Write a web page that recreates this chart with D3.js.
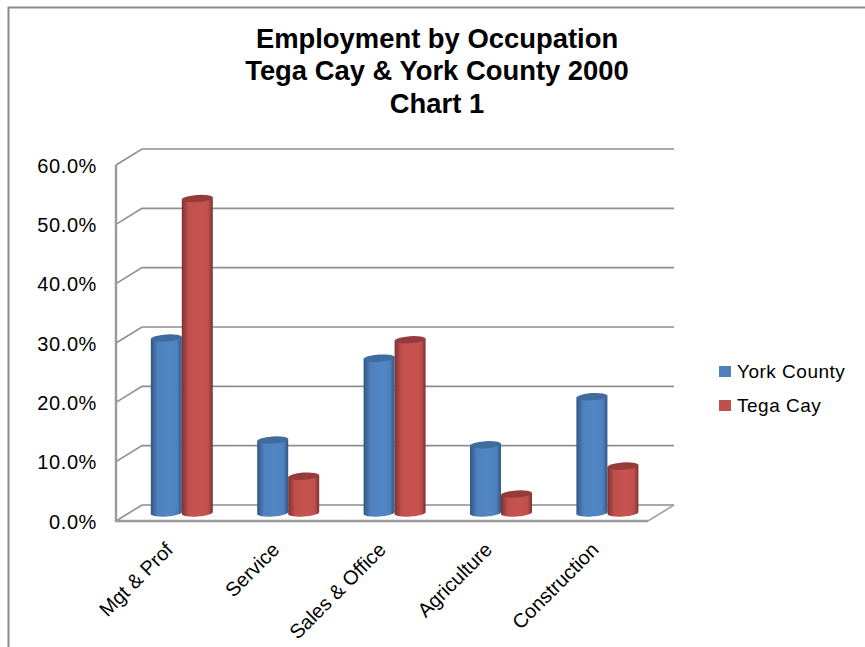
<!DOCTYPE html>
<html><head><meta charset="utf-8">
<script src="https://cdn.jsdelivr.net/npm/d3@7"></script>
<style>html,body{margin:0;padding:0;background:#fff}svg{display:block}text{font-family:"Liberation Sans",Arial,sans-serif;fill:#000}</style>
</head><body><svg id="c" width="865" height="647"></svg>
<script>
const titleLines = ["Employment by Occupation","Tega Cay & York County 2000","Chart 1"];
const categories = ["Mgt & Prof","Service","Sales & Office","Agriculture","Construction"];
const seriesNames = ["York County","Tega Cay"];
const yorkCounty = [29.5,12.3,26.1,11.5,19.6];
const tegaCay = [53.0,6.2,29.2,3.2,7.9];
const yTicks = [0,10,20,30,40,50,60];

const svg = d3.select("#c");
const depthX = 26, depthY = -16;
const left = 116, right = 648, floorY = 521, topY = 165;
const seriesVals = [yorkCounty, tegaCay];
const x = d3.scaleBand().domain(categories).range([left, right]);
const xInner = d3.scaleBand().domain(seriesNames).range([-31, 31]);
const y = d3.scaleLinear().domain([0,60]).range([floorY, topY]);
const barBase = y(0) - 8; // bars stand in the middle of the floor's depth
const barY = v => barBase - (y(0) - y(v));

const colors = [
  {main:"#4f81bd", edge:"#2f5785", top:"#3f6b9f", id:"b"},
  {main:"#c0504d", edge:"#7d3230", top:"#953c3a", id:"r"}];

const defs = svg.append("defs");
colors.forEach(c=>{
  const g = defs.append("linearGradient").attr("id","g"+c.id).attr("x1",0).attr("x2",1).attr("y1",0).attr("y2",0);
  [[0,c.edge],[.22,c.main],[.6,d3.color(c.main).brighter(.12)],[.85,c.main],[1,c.edge]].forEach(s=>
    g.append("stop").attr("offset",s[0]).attr("stop-color",s[1]));
});

// border of the picture
svg.append("path").attr("d","M8.5,647V7.5H865").attr("fill","none").attr("stroke","#8c8c8c").attr("stroke-width",2);

// title
svg.append("g").selectAll("text").data(titleLines).join("text")
  .attr("x",437).attr("y",(d,i)=>47.5+i*32.5).attr("text-anchor","middle")
  .attr("font-size",27.4).attr("font-weight","bold").text(d=>d);

// walls
const grid = svg.append("g").attr("fill","none").attr("stroke","#8f8f8f").attr("stroke-width",1.6);
grid.selectAll("path").data(yTicks).join("path")
  .attr("d",t=>`M${left},${y(t)}L${left+depthX},${y(t)+depthY}H${right+depthX}`);
// floor + left wall
svg.append("path").attr("fill","none").attr("stroke","#a6a6a6").attr("stroke-width",1.8)
  .attr("d",`M${right},${y(0)}L${right+depthX},${y(0)+depthY}`);
svg.append("path").attr("fill","none").attr("stroke","#9a9a9a").attr("stroke-width",2.4)
  .attr("d",`M${left},${y(60)}V${y(0)}H${right}`);

// y axis text
const axisY = d3.axisLeft(y).tickValues(yTicks).tickSize(0).tickPadding(19).tickFormat(d=>d3.format(".1f")(d)+"%");
const ga = svg.append("g").attr("transform",`translate(${left},0)`).call(axisY);
ga.select(".domain").remove();
ga.selectAll("text").attr("font-size",20).attr("font-family","Liberation Sans").attr("fill","#000").attr("dy","0.36em").style("letter-spacing","0.6px");

// x axis text
const axisX = d3.axisBottom(x).tickSize(0).tickPadding(0);
const gx = svg.append("g").attr("transform",`translate(${5},${floorY})`).call(axisX);
gx.select(".domain").remove();
gx.selectAll("text").attr("font-size",20).attr("font-family","Liberation Sans").attr("fill","#000")
  .attr("text-anchor","end").attr("dy",0).attr("y",0)
  .attr("transform","translate(0,30) rotate(-45)");

// cylinders
const tilt = -4;
seriesNames.forEach((name,si)=>{
  const c = colors[si];
  const w = xInner.bandwidth();
  const g = svg.append("g");
  const pts = categories.map((cat,i)=>({cat,v:seriesVals[si][i]}));
  const cx = d => x(d.cat)+x.bandwidth()/2+xInner(name)+w/2+12.6;
  const rx = w/2, ry = 3.6;
  g.selectAll("path.body").data(pts).join("path").attr("class","body")
    .attr("fill",`url(#g${c.id})`)
    .attr("d",d=>{
      const X=cx(d), t=barY(d.v), b=barBase, dy=rx*Math.sin(-tilt*Math.PI/180);
      return `M${X-rx},${t+dy}L${X+rx},${t-dy}L${X+rx},${b-dy}A${rx},${ry} ${tilt} 0 1 ${X-rx},${b+dy}Z`;
    });
  g.selectAll("ellipse").data(pts).join("ellipse")
    .attr("cx",cx).attr("cy",d=>barY(d.v)).attr("rx",rx).attr("ry",ry)
    .attr("transform",d=>`rotate(${tilt} ${cx(d)} ${barY(d.v)})`)
    .attr("fill",c.top);
});

// legend
const legend = svg.append("g").selectAll("g").data(seriesNames).join("g")
  .attr("transform",(d,i)=>`translate(719,${366+i*34})`);
legend.append("rect").attr("width",12).attr("height",11).attr("fill",(d,i)=>colors[i].main);
legend.append("text").attr("x",18).attr("y",12).attr("font-size",19).style("letter-spacing","0.5px").text(d=>d);
</script></body></html>
